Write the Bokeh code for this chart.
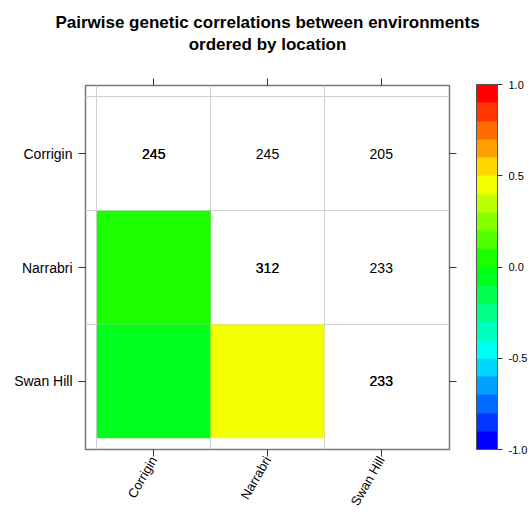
import math
from bokeh.plotting import figure
from bokeh.models import (Range1d, FixedTicker, LinearAxis, ColorBar, LinearColorMapper,
                          PrintfTickFormatter, ColumnDataSource, Title, CustomLabelingPolicy)
from bokeh.core.properties import value
from bokeh.embed import file_html
from bokeh.resources import INLINE

# ---- data ----
envs = ["Corrigin", "Narrabri", "Swan Hill"]
# lower triangle: pairwise genetic correlations (row environment, column environment)
corr_row = ["Narrabri", "Swan Hill", "Swan Hill"]
corr_col = ["Corrigin", "Corrigin", "Narrabri"]
corr_val = [0.04, -0.04, 0.45]
# upper triangle and diagonal: numbers printed in the cells
n_row = ["Corrigin", "Corrigin", "Corrigin", "Narrabri", "Narrabri", "Swan Hill"]
n_col = ["Corrigin", "Narrabri", "Swan Hill", "Narrabri", "Swan Hill", "Swan Hill"]
n_val = [245, 245, 205, 312, 233, 233]
cbar_ticks = [-1.0, -0.5, 0.0, 0.5, 1.0]
palette = ["#0000FF", "#0036FF", "#006BFF", "#00A1FF", "#00D7FF",
           "#00FFF2", "#00FFBC", "#00FF86", "#00FF50", "#00FF1B",
           "#1BFF00", "#50FF00", "#86FF00", "#BCFF00", "#F2FF00",
           "#FFD700", "#FFA100", "#FF6B00", "#FF3600", "#FF0000"]

FONT = "Liberation Sans"
pos = {e: i + 1 for i, e in enumerate(envs)}

corr_src = ColumnDataSource(dict(
    x=[pos[c] for c in corr_col], y=[pos[r] for r in corr_row], v=corr_val))
n_src = ColumnDataSource(dict(
    x=[pos[c] for c in n_col], y=[pos[r] for r in n_row], t=[str(v) for v in n_val]))
diag = [i for i in range(len(n_val)) if n_row[i] == n_col[i]]
d_src = ColumnDataSource(dict(
    x=[pos[n_col[i]] for i in diag], y=[pos[n_row[i]] for i in diag],
    t=[str(n_val[i]) for i in diag]))

p = figure(width=531, height=514, x_range=Range1d(0.4, 3.6), y_range=Range1d(3.6, 0.4),
           output_backend="svg", toolbar_location=None, title_location=None,
           min_border_left=85, min_border_right=82, min_border_top=85, min_border_bottom=65)
p.background_fill_color = "white"
p.border_fill_color = "white"
p.outline_line_color = "#777777"
p.outline_line_width = 1.5

for g in (p.xgrid, p.ygrid):
    g.ticker = FixedTicker(ticks=[0.5, 1.5, 2.5])
    g.grid_line_color = "#d0d0d0"
    g.grid_line_width = 1

mapper = LinearColorMapper(palette=palette, low=-1, high=1)
p.rect(x="x", y="y", width=1, height=1, source=corr_src,
       fill_color={"field": "v", "transform": mapper}, line_color=None)

for src in (n_src, d_src):
    p.text(x="x", y="y", text="t", source=src, text_align="center", text_baseline="middle",
           text_font=value(FONT), text_font_size="14px", text_color="black")

def style_axis(ax):
    ax.ticker = FixedTicker(ticks=[1, 2, 3])
    ax.axis_line_color = None
    ax.major_tick_out = 7
    ax.major_tick_in = 0
    ax.minor_tick_line_color = None
    ax.major_tick_line_color = "#333333"
    ax.major_label_text_font = FONT
    ax.major_label_text_color = "black"
    ax.major_label_text_font_size = "14px"

labels = {i + 1: e for i, e in enumerate(envs)}
left = p.yaxis[0]
style_axis(left)
left.major_label_overrides = labels
left.major_label_standoff = 6

bottom = p.xaxis[0]
style_axis(bottom)
bottom.major_label_overrides = labels
bottom.major_label_orientation = math.pi / 3
bottom.major_label_text_font_size = "13px"
bottom.major_label_standoff = 1

top = LinearAxis()
style_axis(top)
top.major_label_policy = CustomLabelingPolicy(code="return []")
top.major_label_standoff = 0
p.add_layout(top, "above")

right = LinearAxis()
style_axis(right)
right.major_label_policy = CustomLabelingPolicy(code="return []")
right.major_label_text_font_size = "1px"
right.major_label_standoff = -5
p.add_layout(right, "right")

sub = Title(text="ordered by location", align="center", text_font=FONT,
            text_font_size="17px", text_font_style="bold", text_color="black",
            standoff=24)
main = Title(text="Pairwise genetic correlations between environments", align="center",
             text_font=FONT, text_font_size="17px", text_font_style="bold",
             text_color="black", standoff=-23)
p.add_layout(sub, "above")
p.add_layout(main, "above")

cb = ColorBar(color_mapper=mapper, width=21, height=365, location=(21, 0),
              padding=0, margin=0,
              ticker=FixedTicker(ticks=cbar_ticks),
              formatter=PrintfTickFormatter(format="%.1f"),
              major_tick_out=5, major_tick_in=0, major_tick_line_color="#333333",
              minor_tick_line_color=None, label_standoff=6,
              major_label_text_font=FONT, major_label_text_font_size="11px",
              major_label_text_color="black",
              bar_line_color="#555555", bar_line_width=1,
              background_fill_color=None, border_line_color=None)
p.add_layout(cb, "right")

open("out.html", "w").write(file_html(p, INLINE))
